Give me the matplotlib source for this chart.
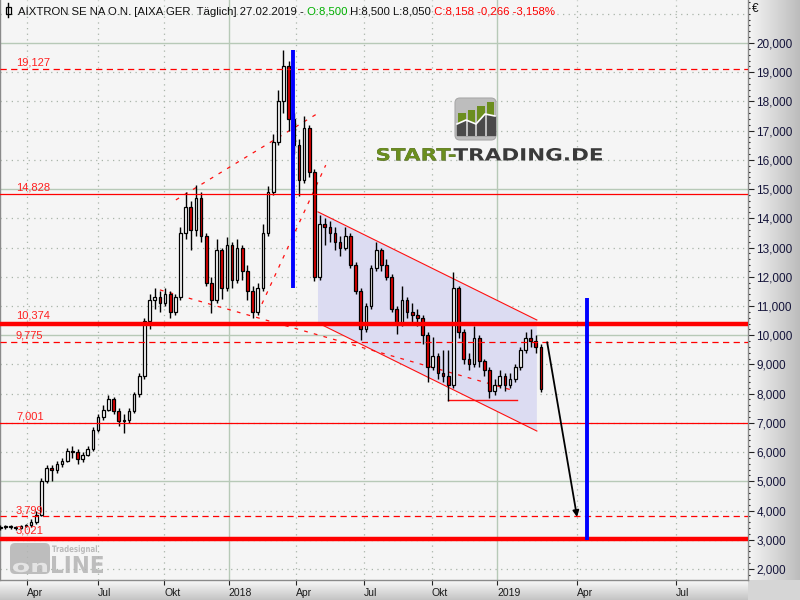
import matplotlib
matplotlib.use('Agg')
import matplotlib.pyplot as plt
import numpy as np
from matplotlib.patches import Polygon, FancyBboxPatch, Rectangle, PathPatch
from matplotlib.textpath import TextPath
from matplotlib.font_manager import FontProperties
from matplotlib.transforms import Affine2D, blended_transform_factory
from matplotlib.colors import LinearSegmentedColormap
import matplotlib.ticker as mticker

# ---------------- data (weekly OHLC, AIXTRON, Mar 2017 - Feb 2019) ----------------
opens = [3.40, 3.45, 3.42, 3.45, 3.40, 3.47, 3.50, 3.62, 3.85, 5.00,
         5.45, 5.40, 5.60, 5.70, 6.05, 6.00, 5.75, 5.90, 6.10, 6.75,
         7.20, 7.45, 7.80, 7.40, 7.05, 7.10, 7.40, 8.00, 8.60, 10.50,
         11.20, 11.30, 11.10, 11.40, 10.80, 11.30, 13.50, 14.40, 13.60, 14.70,
         13.40, 11.80, 11.20, 12.90, 11.60, 13.10, 11.90, 13.00, 12.20, 11.50,
         10.80, 11.60, 13.50, 14.90, 16.60, 18.00, 19.20, 17.40, 16.50, 15.30,
         17.10, 15.60, 12.00, 13.80, 13.70, 13.50, 13.20, 13.00, 13.40, 12.40,
         11.50, 10.20, 11.00, 12.30, 12.90, 12.40, 12.00, 10.90, 10.40, 11.20,
         10.80, 10.70, 10.60, 10.00, 8.90, 9.30, 8.70, 8.60, 8.30, 11.60,
         10.10, 9.20, 9.00, 9.90, 9.10, 8.80, 8.10, 8.30, 8.60, 8.30,
         8.50, 8.90, 9.50, 9.90, 9.80, 9.60]
highs = [3.52, 3.50, 3.50, 3.48, 3.52, 3.55, 3.70, 4.00, 5.10, 5.55,
         5.55, 5.70, 5.80, 6.15, 6.20, 6.10, 6.00, 6.20, 6.85, 7.30,
         7.60, 7.95, 7.90, 7.50, 7.30, 7.50, 8.05, 8.70, 10.60, 11.40,
         11.60, 11.50, 11.60, 11.50, 11.40, 13.70, 14.90, 14.60, 15.15, 14.90,
         13.50, 12.00, 13.30, 13.00, 13.35, 13.20, 13.30, 13.10, 12.40, 11.70,
         11.80, 13.80, 15.10, 16.90, 18.40, 19.76, 19.40, 17.60, 16.70, 17.50,
         17.20, 15.70, 14.10, 14.00, 13.90, 13.70, 13.40, 13.70, 13.50, 12.50,
         11.60, 11.10, 12.40, 13.20, 13.00, 12.60, 12.10, 11.00, 11.70, 11.30,
         11.10, 10.90, 10.70, 10.10, 9.95, 9.40, 9.50, 9.50, 12.15, 11.70,
         10.20, 9.40, 10.30, 10.00, 9.20, 8.90, 8.50, 8.80, 8.70, 8.70,
         9.00, 9.60, 10.10, 10.20, 10.00, 9.70]
lows = [3.35, 3.36, 3.38, 3.34, 3.38, 3.42, 3.45, 3.55, 3.80, 4.95,
        5.00, 5.30, 5.50, 5.65, 5.80, 5.60, 5.65, 5.85, 6.05, 6.70,
        7.10, 7.40, 7.30, 6.90, 6.65, 7.00, 7.35, 7.90, 8.50, 10.20,
        10.90, 10.80, 11.00, 10.60, 10.70, 11.20, 13.30, 12.90, 13.40, 13.20,
        11.70, 10.75, 11.10, 11.25, 11.50, 11.60, 11.80, 11.90, 11.20, 10.60,
        10.70, 11.50, 13.40, 14.80, 16.50, 17.60, 17.00, 16.20, 14.75, 15.20,
        15.40, 11.85, 11.90, 13.10, 13.20, 12.90, 12.70, 12.90, 12.30, 11.40,
        9.85, 10.10, 10.90, 12.20, 12.20, 11.90, 10.80, 10.05, 10.30, 10.60,
        10.40, 10.30, 9.70, 8.40, 8.80, 8.50, 8.40, 7.75, 8.20, 9.90,
        9.00, 8.80, 8.90, 8.90, 8.60, 7.85, 7.95, 8.20, 8.10, 8.20,
        8.40, 8.80, 9.40, 9.60, 9.40, 8.05]
closes = [3.45, 3.42, 3.45, 3.40, 3.47, 3.50, 3.62, 3.85, 5.00, 5.45,
          5.40, 5.60, 5.70, 6.05, 6.00, 5.75, 5.90, 6.10, 6.75, 7.20,
          7.45, 7.80, 7.40, 7.05, 7.10, 7.40, 8.00, 8.60, 10.50, 11.20,
          11.30, 11.10, 11.40, 10.80, 11.30, 13.50, 14.40, 13.60, 14.70, 13.40,
          11.80, 11.20, 12.90, 11.60, 13.10, 11.90, 13.00, 12.20, 11.50, 10.80,
          11.60, 13.50, 14.90, 16.60, 18.00, 19.20, 17.40, 16.50, 15.30, 17.10,
          15.60, 12.00, 13.80, 13.70, 13.50, 13.20, 13.00, 13.40, 12.40, 11.50,
          10.20, 11.00, 12.30, 12.90, 12.40, 12.00, 10.90, 10.40, 11.20, 10.80,
          10.70, 10.60, 10.00, 8.90, 9.30, 8.70, 8.60, 8.30, 11.60, 10.10,
          9.20, 9.00, 9.90, 9.10, 8.80, 8.10, 8.30, 8.60, 8.30, 8.50,
          8.90, 9.50, 9.90, 9.80, 9.60, 8.158]

x_tick_pos = [5.2, 19.0, 31.8, 44.4, 57.4, 70.6, 83.8, 96.5, 112.0, 131.2]
x_tick_labels = ['Apr', 'Jul', 'Okt', '2018', 'Apr', 'Jul', 'Okt', '2019', 'Apr', 'Jul']
year_ticks = [44.4, 96.5]

levels = [19.127, 14.828, 10.374, 9.775, 7.001, 3.799, 3.021]
level_labels = ['19,127', '14,828', '10,374', '9,775', '7,001', '3,799', '3,021']
level_styles = ['dashed', 'thin', 'thick', 'dashed', 'thin', 'dashed', 'thick']

trend_lines = [[(34.1, 14.63), (62.1, 17.64)],
               [(31.0, 11.55), (99.4, 8.12)],
               [(50.0, 10.76), (63.2, 15.82)]]
channel_top = [(61.7, 14.22), (104.2, 10.52)]
channel_bot = [(61.7, 10.42), (104.2, 6.72)]
support_seg = [(86.9, 7.78), (100.3, 7.78)]
blue_bars = [(56.85, 11.62, 19.76), (113.9, 2.99, 11.27)]
arrow_from = (106.2, 9.76)
arrow_to = (112.0, 3.78)

# ---------------- figure ----------------
W, H = 800, 600
fig = plt.figure(figsize=(8, 6), dpi=100)

bg = fig.add_axes([0, 0, 1, 1], zorder=-10)
cm_h = LinearSegmentedColormap.from_list('gh', ['#f6f6f6', '#bcbcbc'])
bg.imshow(np.linspace(0, 1, 256).reshape(1, -1), extent=(748, 800, 600, 0), cmap=cm_h, aspect='auto')
cm_v = LinearSegmentedColormap.from_list('gv', ['#fafafa', '#c4c4c4'])
bg.imshow(np.linspace(0, 1, 64).reshape(-1, 1), extent=(0, 748, 600, 580), cmap=cm_v, aspect='auto')
bg.add_patch(Rectangle((748, 580), 52, 20, facecolor='#d6d6d6', edgecolor='none'))
bg.set_xlim(0, 800); bg.set_ylim(600, 0); bg.axis('off')

ax = fig.add_axes([0, 20 / H, 748 / W, 580 / H])
ax.set_facecolor('#f5f5f5')
ax.set_xlim(-0.05, 145.2)
ax.set_ylim(1.622, 21.472)

# grid
grid_col = '#a9b5a9'
for v in range(2, 22):
    if v % 5 == 0:
        ax.axhline(v, color='#b7c9b7', lw=1.0, zorder=0.5)
    else:
        ax.axhline(v, color=grid_col, lw=0.9, ls=(0, (1, 3.5)), zorder=0.5)
for xp in x_tick_pos:
    if xp in year_ticks:
        ax.axvline(xp, color='#b7c9b7', lw=1.0, zorder=0.5)
    else:
        ax.axvline(xp, color=grid_col, lw=0.9, ls=(0, (1, 3.5)), zorder=0.5)

# channel
ch_poly = [channel_top[0], channel_top[1], channel_bot[1], channel_bot[0]]
ax.add_patch(Polygon(ch_poly, closed=True, facecolor='#dcdcf2', edgecolor='none', zorder=1))
for seg in (channel_top, channel_bot):
    ax.plot([seg[0][0], seg[1][0]], [seg[0][1], seg[1][1]], color='#ff1010', lw=0.8, zorder=2)

# trend lines
for seg in trend_lines:
    ax.plot([seg[0][0], seg[1][0]], [seg[0][1], seg[1][1]], color='#ff1010', lw=0.9,
            ls=(0, (3, 5)), zorder=2)
ax.plot([support_seg[0][0], support_seg[1][0]], [support_seg[0][1], support_seg[1][1]],
        color='#ff1010', lw=1.0, zorder=2)

# candles
idx = np.arange(len(closes))
o = np.array(opens); c = np.array(closes); hi = np.array(highs); lo = np.array(lows)
ax.vlines(idx, lo, hi, color='black', lw=1.0, zorder=3)
up = c >= o
body_bot = np.minimum(o, c)
body_h = np.maximum(np.abs(c - o), 0.04)
ax.bar(idx[up], body_h[up], bottom=body_bot[up], width=0.52, color='white',
       edgecolor='black', lw=0.9, zorder=3.2)
ax.bar(idx[~up], body_h[~up], bottom=body_bot[~up], width=0.52, color='#e00000',
       edgecolor='black', lw=0.9, zorder=3.2)

# horizontal levels
lab_tr = blended_transform_factory(ax.transAxes, ax.transData)
for lv, lb, st in zip(levels, level_labels, level_styles):
    if st == 'thick':
        ax.axhline(lv, color='#ff0000', lw=3.2, zorder=4)
        off = 2.8
    elif st == 'dashed':
        ax.axhline(lv, color='#ff0000', lw=0.9, ls=(0, (5, 3.5)), zorder=4)
        off = 1.0
    else:
        ax.axhline(lv, color='#ff0000', lw=0.9, zorder=4)
        off = 1.0
    ax.annotate(lb, xy=(16 / 748, lv), xycoords=lab_tr, xytext=(0, off),
                textcoords='offset points', va='bottom', ha='left', fontsize=8,
                color='#ff2020', family='Liberation Sans', zorder=6)

# blue bars
for xb, y0, y1 in blue_bars:
    ax.plot([xb, xb], [y0, y1], color='#0000ff', lw=2.8, zorder=5, solid_capstyle='butt')

# arrow
ax.annotate('', xy=arrow_to, xytext=arrow_from,
            arrowprops=dict(arrowstyle='-|>', color='black', lw=1.3,
                            mutation_scale=9, shrinkA=0, shrinkB=0), zorder=5)

# axes / ticks
ax.yaxis.tick_right()
ax.yaxis.set_major_locator(mticker.FixedLocator(range(2, 21)))
ax.yaxis.set_minor_locator(mticker.MultipleLocator(0.2))
ax.yaxis.set_major_formatter(mticker.FuncFormatter(lambda v, p: f"{v:.3f}".replace('.', ',')))
ax.tick_params(axis='y', which='major', direction='out', length=4.5, width=0.8,
               color='#222222', labelsize=8.5, labelcolor='#14143a', pad=1.5)
ax.tick_params(axis='y', which='minor', direction='out', length=1.5, width=0.8, color='#222222')
for lbl in ax.get_yticklabels():
    lbl.set_family('Liberation Sans')
ax.set_xticks(x_tick_pos)
ax.set_xticklabels(x_tick_labels, ha='left', fontsize=7.5, family='Liberation Sans',
                   color='#1a1a1a')
ax.tick_params(axis='x', direction='out', length=3.5, width=0.8, color='#222222', pad=2)
ax.spines['top'].set_visible(False)
for s in ('left', 'right', 'bottom'):
    ax.spines[s].set_color('#8a8a8a')
    ax.spines[s].set_linewidth(1.0)

# ---------------- overlay: title, logos ----------------
ov = fig.add_axes([0, 0, 1, 1], zorder=10)
ov.set_xlim(0, 800); ov.set_ylim(600, 0); ov.axis('off'); ov.patch.set_alpha(0)

ov.text(752, 12, '€', fontsize=8.5, family='Liberation Sans', color='#111111', va='baseline')

# title icon
ov.plot([8, 8], [3, 17], color='black', lw=1.0)
ov.add_patch(Rectangle((5.5, 6.5), 5, 7, facecolor='white', edgecolor='black', lw=0.9))

tfont = dict(fontsize=8.2, family='Liberation Sans')
t1 = ov.text(18, 15, 'AIXTRON SE NA O.N. [AIXA GER  Täglich] 27.02.2019 -', color='#111111',
             va='baseline', **tfont)
t2 = ov.annotate(' O:8,500', xy=(1, 0), xycoords=t1, va='bottom', ha='left', color='#00b000', **tfont)
t3 = ov.annotate(' H:8,500 L:8,050', xy=(1, 0), xycoords=t2, va='bottom', ha='left', color='#111111', **tfont)
t4 = ov.annotate(' C:8,158 -0,266 -3,158%', xy=(1, 0), xycoords=t3, va='bottom', ha='left',
                 color='#ff0000', **tfont)


def path_text(axo, s, x0, base, cap_h, width, color, z=11, alpha=1.0, ref=None):
    fp = FontProperties(family='DejaVu Sans', weight='bold')
    full = TextPath((0, 0), ref if ref else s, size=100, prop=fp)
    ext = full.get_extents()
    caph = TextPath((0, 0), 'H', size=100, prop=fp).get_extents().height
    sy = cap_h / caph
    sx = width / ext.width
    tp = TextPath((0, 0), s, size=100, prop=fp)
    tr = Affine2D().translate(-ext.x0, 0).scale(sx, -sy).translate(x0, base) + axo.transData
    axo.add_patch(PathPatch(tp, transform=tr, facecolor=color, edgecolor='none', alpha=alpha, zorder=z))


# START-TRADING.DE logo
full_s = 'START-TRADING.DE'
path_text(ov, full_s, 377, 160.5, 12.3, 225, '#3a3a3a')
path_text(ov, 'START-', 377, 160.5, 12.3, 225, '#6b8e1e', z=12, ref=full_s)
ov.add_patch(FancyBboxPatch((455, 98), 41, 42, boxstyle='round,pad=0,rounding_size=5',
                            facecolor='#bdbdbd', edgecolor='#a8a8a8', lw=0.8, zorder=11))
bars_x = [458, 467.5, 477, 486.5]
bars_top = [113, 110, 106, 102]
line_y = [124, 120, 124, 114, 116]
for bx, bt in zip(bars_x, bars_top):
    ov.add_patch(Rectangle((bx, bt), 7.8, 135 - bt, facecolor='#6b8e1e', edgecolor='none', zorder=12))
lx = [457, 466, 476, 485, 495]
ov.fill_between(lx, line_y, 135, color='#4a4a4a', zorder=12.5)
for bx in [465.8, 475.3, 484.8]:
    ov.add_patch(Rectangle((bx, 100), 1.7, 36, facecolor='#bdbdbd', edgecolor='none', zorder=12.7))
ov.plot(lx, line_y, color='white', lw=1.2, zorder=13)

# Tradesignal online logo
ov.add_patch(FancyBboxPatch((10, 543), 40, 31, boxstyle='round,pad=0,rounding_size=5',
                            facecolor='#b4b4b4', edgecolor='none', alpha=0.85, zorder=11))
path_text(ov, 'on', 13, 572, 12, 34, '#e4e4e4', z=12)
path_text(ov, 'LINE', 52, 573, 17, 51, '#b4b4b4', z=12, alpha=0.85)
path_text(ov, 'Tradesignal', 52, 552, 6.5, 45, '#b4b4b4', z=12, alpha=0.9)

fig.savefig('out.png', dpi=100)
